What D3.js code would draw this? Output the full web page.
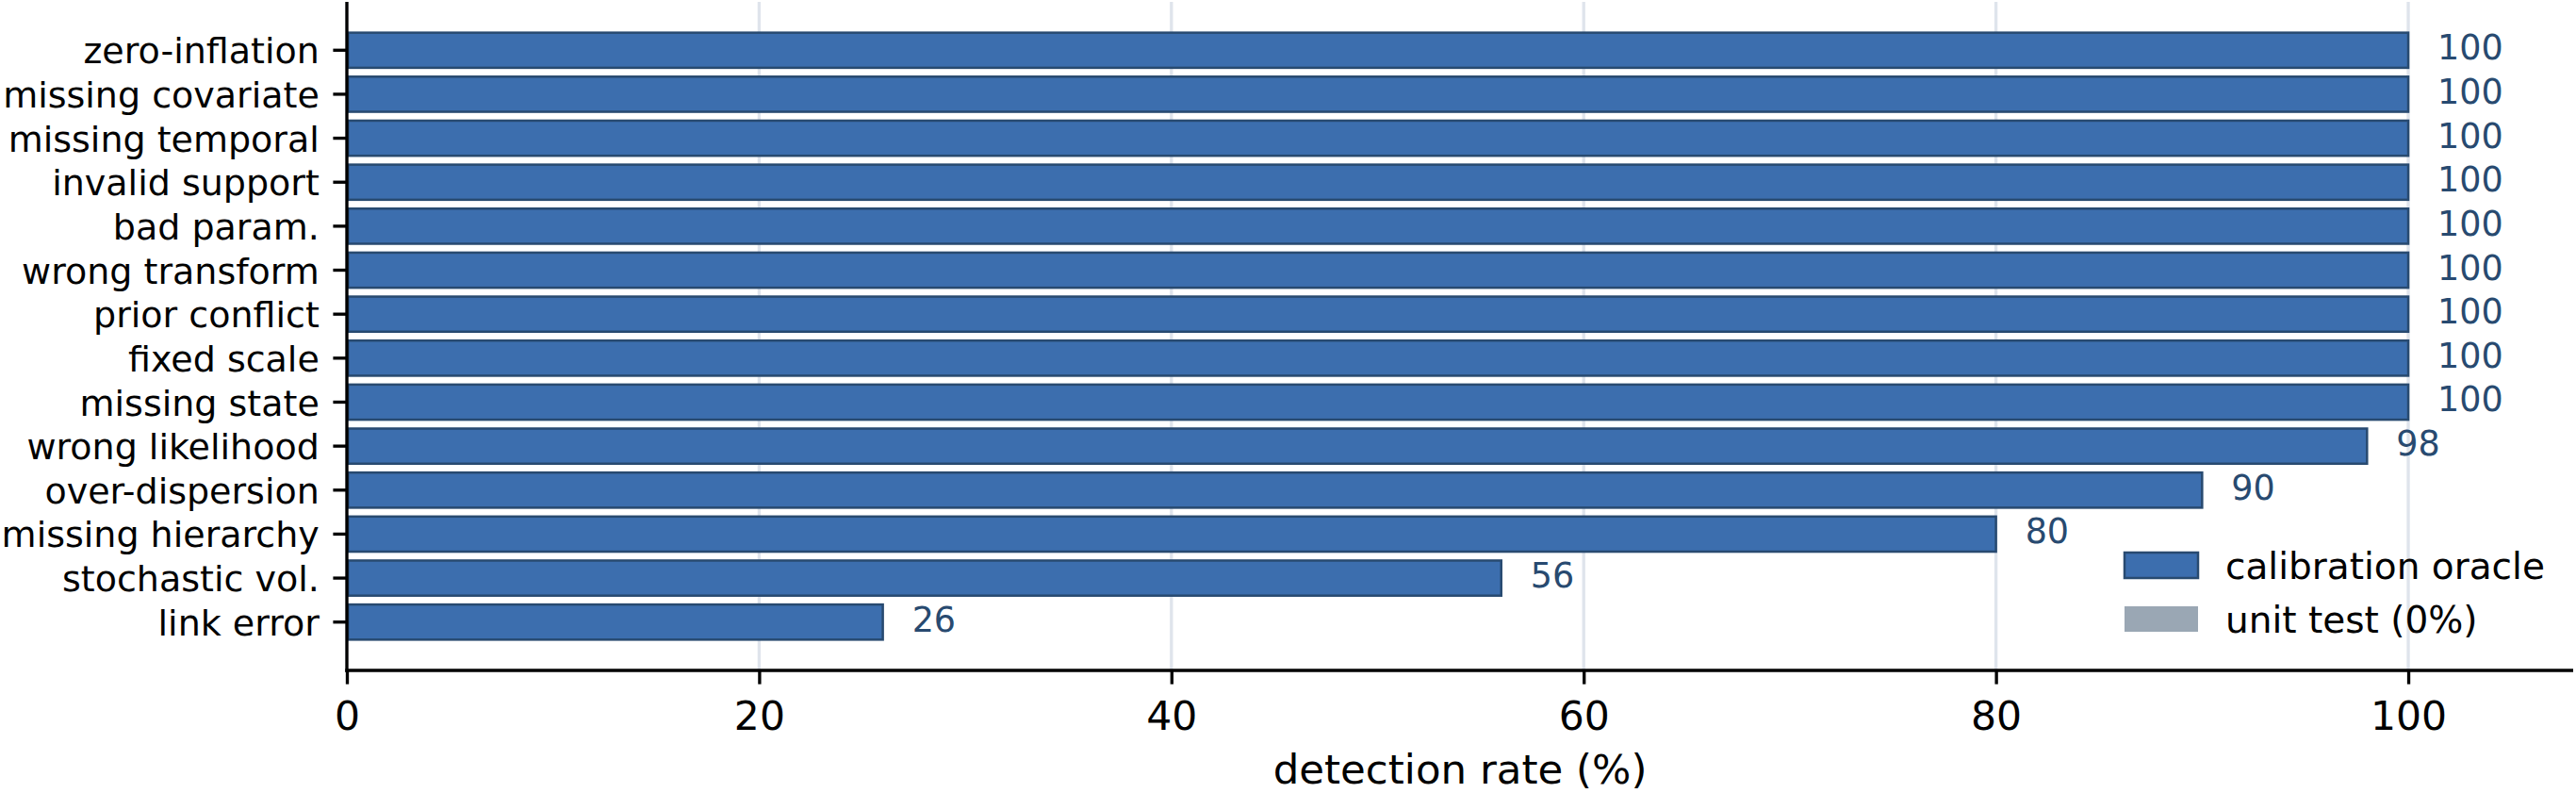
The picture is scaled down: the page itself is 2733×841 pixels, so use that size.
<!DOCTYPE html>
<html>
<head>
<meta charset="utf-8">
<script src="https://cdn.jsdelivr.net/npm/d3@7"></script>
<style>
  html, body { margin: 0; padding: 0; background: #ffffff; }
  svg { display: block; }
  text { font-family: "DejaVu Sans", sans-serif; }
</style>
</head>
<body>
<script>
// ---- data ----
const categories = [
  "zero-inflation", "missing covariate", "missing temporal", "invalid support",
  "bad param.", "wrong transform", "prior conflict", "fixed scale",
  "missing state", "wrong likelihood", "over-dispersion", "missing hierarchy",
  "stochastic vol.", "link error"
];
const calibrationOracle = [100, 100, 100, 100, 100, 100, 100, 100, 100, 98, 90, 80, 56, 26];
const unitTest = [0, 0, 0, 0, 0, 0, 0, 0, 0, 0, 0, 0, 0, 0];
const xTicks = [0, 20, 40, 60, 80, 100];
const xDomain = [0, 108];
const seriesNames = ["calibration oracle", "unit test (0%)"];
const xLabel = "detection rate (%)";

// ---- layout ----
const W = 2733, H = 841;
const plot = { left: 368, right: 2730, top: 2, bottom: 711 };
const barFill = "#3c6eae", barEdge = "#284a70", unitFill = "#9aa7b4";
const labelColor = "#284a70", gridColor = "#dfe4ec";
const lw = 3.33;

const svg = d3.select("body").append("svg")
  .attr("width", W).attr("height", H);

const x = d3.scaleLinear().domain(xDomain).range([plot.left, plot.right]);
const y = d3.scaleBand().domain(categories)
  .range([plot.top, plot.bottom])
  .paddingInner(0.15).paddingOuter(0.674);

// grid
svg.append("g").selectAll("line").data(xTicks).join("line")
  .attr("x1", d => x(d)).attr("x2", d => x(d))
  .attr("y1", plot.top).attr("y2", plot.bottom)
  .attr("stroke", gridColor).attr("stroke-width", lw);

// unit test bars (0-width)
svg.append("g").selectAll("rect").data(categories).join("rect")
  .attr("x", x(0)).attr("y", d => y(d))
  .attr("width", (d, i) => x(unitTest[i]) - x(0))
  .attr("height", y.bandwidth())
  .attr("fill", unitFill);

// calibration bars
svg.append("g").selectAll("rect").data(categories).join("rect")
  .attr("x", x(0) + 1.2).attr("y", d => y(d) + 1.2)
  .attr("width", (d, i) => x(calibrationOracle[i]) - x(0) - 1.2)
  .attr("height", y.bandwidth() - 2.4)
  .attr("fill", barFill).attr("stroke", barEdge).attr("stroke-width", 2.5);

// value labels
svg.append("g").selectAll("text").data(categories).join("text")
  .attr("x", (d, i) => x(calibrationOracle[i]) + 31)
  .attr("y", d => y(d) + y.bandwidth() / 2 + 10)
  .attr("font-size", 36.5).attr("fill", labelColor)
  .text((d, i) => d3.format("d")(calibrationOracle[i]));

// x axis
const xAxis = svg.append("g")
  .attr("transform", `translate(0,${plot.bottom})`)
  .call(d3.axisBottom(x).tickValues(xTicks).tickFormat(d3.format("d"))
    .tickSize(14.6).tickPadding(14.6).tickSizeOuter(0));
xAxis.select(".domain").attr("stroke", "#000").attr("stroke-width", lw)
  .attr("d", `M${plot.left - lw/2},0H${plot.right}`);
xAxis.selectAll(".tick line").attr("stroke", "#000").attr("stroke-width", lw);
xAxis.selectAll(".tick text").attr("font-size", 42.5).attr("fill", "#000")
  .attr("font-family", "DejaVu Sans").attr("dy", null).attr("y", 63);

// y axis
const yAxis = svg.append("g")
  .attr("transform", `translate(${plot.left},0)`)
  .call(d3.axisLeft(y).tickSize(14.6).tickPadding(14.6).tickSizeOuter(0));
yAxis.select(".domain").attr("stroke", "#000").attr("stroke-width", lw)
  .attr("d", `M0,${plot.top}V${plot.bottom + lw/2}`);
yAxis.selectAll(".tick line").attr("stroke", "#000").attr("stroke-width", lw);
yAxis.selectAll(".tick text").attr("font-size", 38).attr("fill", "#000")
  .attr("font-family", "DejaVu Sans").attr("dy", "0.37em");

// x label
svg.append("text")
  .attr("x", (plot.left + plot.right) / 2).attr("y", 831)
  .attr("text-anchor", "middle").attr("font-size", 43.5).attr("fill", "#000")
  .text(xLabel);

// legend
const legend = svg.append("g").attr("transform", "translate(2253,585)");
const legendColors = [barFill, unitFill];
const legendEdges = [barEdge, "none"];
seriesNames.forEach((name, i) => {
  const g = legend.append("g").attr("transform", `translate(0,${i * 57})`);
  g.append("rect").attr("x", 1).attr("y", 1).attr("width", 78).attr("height", 27)
    .attr("fill", legendColors[i]).attr("stroke", legendEdges[i]).attr("stroke-width", 2.5);
  g.append("text").attr("x", 108).attr("y", 29)
    .attr("font-size", 39).attr("fill", "#000").text(name);
});
</script>
</body>
</html>
